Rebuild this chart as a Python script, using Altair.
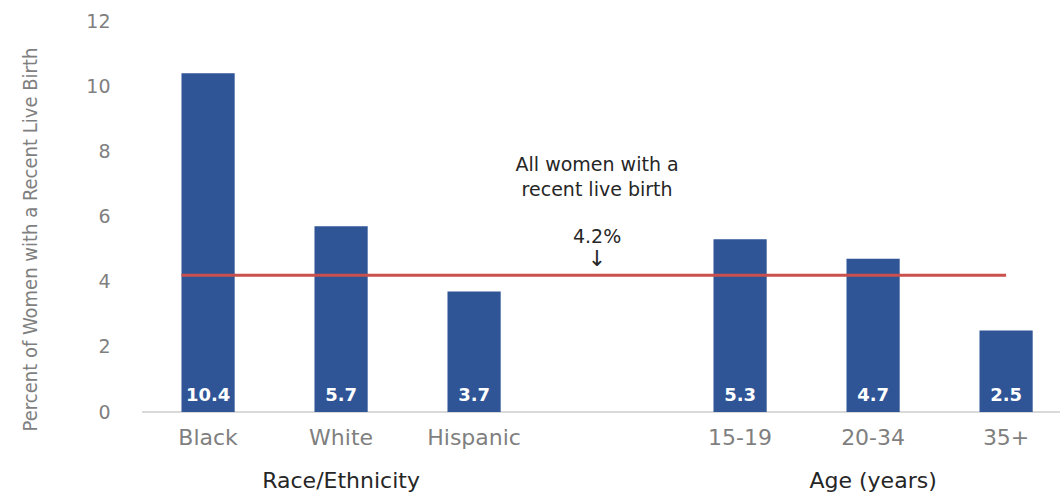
import altair as alt
import pandas as pd

categories = ["Black", "White", "Hispanic", " ", "15-19", "20-34", "35+"]
values = [10.4, 5.7, 3.7, None, 5.3, 4.7, 2.5]
overall = 4.2
group_labels = ["Race/Ethnicity", "Age (years)"]
group_anchor = ["White", "20-34"]
y_ticks = [0, 2, 4, 6, 8, 10, 12]

bars_df = pd.DataFrame({"cat": categories, "val": values}).dropna()
bars_df["lbl"] = bars_df["val"].map(lambda v: f"{v:.1f}")
line_df = pd.DataFrame({"start": [categories[0]], "end": [categories[-1]], "avg": [overall]})
grp_df = pd.DataFrame({"cat": group_anchor, "label": group_labels})

W, H = 920, 391
xscale = alt.Scale(domain=categories, paddingInner=0.6, paddingOuter=0.2586, align=0.574)
yscale = alt.Scale(domain=[0, 12], nice=False)

x_enc = alt.X("cat:N", scale=xscale, sort=categories,
              axis=alt.Axis(title=None, ticks=False, domain=False, labelAngle=0,
                            labelFont="DejaVu Sans", labelFontSize=22, labelColor="#7f7f7f",
                            labelPadding=15))
y_enc = alt.Y("val:Q", scale=yscale,
              axis=alt.Axis(title="Percent of Women with a Recent Live Birth", values=y_ticks,
                            grid=False, ticks=False, domain=False,
                            labelFont="DejaVu Sans", labelFontSize=19, labelColor="#7f7f7f",
                            labelPadding=32,
                            titleFont="DejaVu Sans Condensed, Roboto, sans-serif", titleFontSize=20,
                            titleFontWeight="normal", titleColor="#7f7f7f",
                            titleAngle=-90, titleX=-112, titleY=218,
                            titleAlign="center", titleBaseline="middle"))

bars = alt.Chart(bars_df).mark_bar(color="#2F5597").encode(x=x_enc, y=y_enc)

baseline = alt.Chart(bars_df).mark_rule(color="#d9d9d9", strokeWidth=1.5).encode(
    y=alt.datum(0), x=alt.value(0), x2=alt.value(W - 2))

vlabels = alt.Chart(bars_df).mark_text(
    color="white", font="DejaVu Sans", fontWeight="bold", fontSize=18,
    baseline="bottom", dy=-7).encode(x=alt.X("cat:N"), y=alt.datum(0), text="lbl:N")

avg_line = alt.Chart(line_df).mark_rule(color="#C9504D", strokeWidth=3).encode(
    x=alt.X("start:N", bandPosition=0),
    x2=alt.X2("end", bandPosition=0.5),
    y=alt.Y("avg:Q"))

def note(txt, dy, size=19):
    return alt.Chart(line_df).mark_text(
        font="DejaVu Sans", fontSize=size, color="#262626", baseline="middle",
        align="center", dx=-10, dy=dy).encode(
        x=alt.XDatum(" ", type="nominal"), y=alt.Y("avg:Q"), text=alt.value(txt))

notes = [note("All women with a", -110), note("recent live birth", -85),
         note("4.2%", -38), note("↓", -16, 22)]

groups = alt.Chart(grp_df).mark_text(
    font="DejaVu Sans", fontSize=22, color="#262626", baseline="middle", dy=69).encode(
    x=alt.X("cat:N"), y=alt.datum(0), text="label:N")

chart = alt.layer(baseline, bars, avg_line, vlabels, *notes, groups).properties(
    width=W, height=H,
    autosize=alt.AutoSizeParams(type="none"),
    padding={"left": 142, "top": 21, "right": 0, "bottom": 81},
    background="white",
).configure_view(stroke=None)

chart.save("out.html", embed_options={"renderer": "svg", "actions": False})
